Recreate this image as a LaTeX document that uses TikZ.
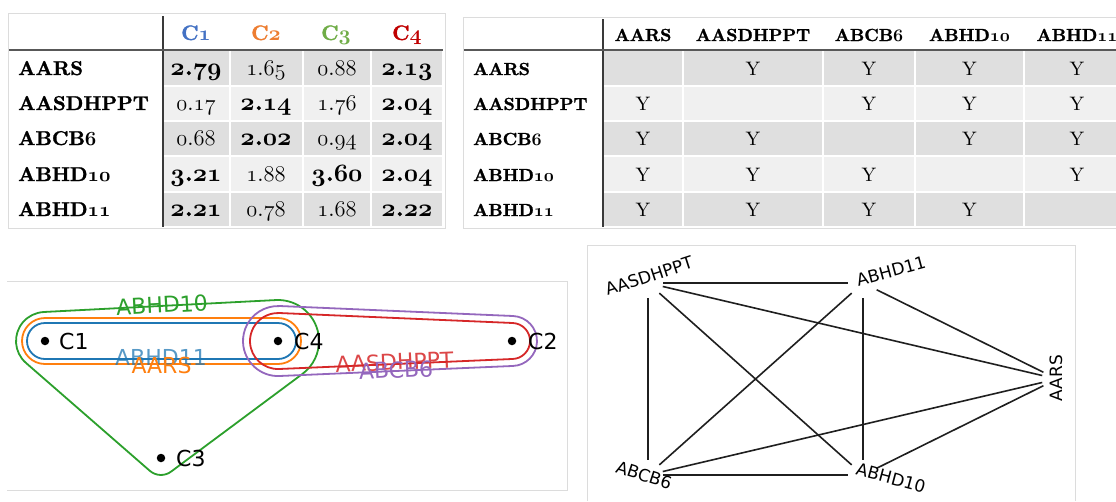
\RequirePackage{fix-cm}
\documentclass[tikz,border=0pt]{standalone}
\usepackage{fontspec}
\setmainfont{lmroman10-regular.otf}[BoldFont=lmroman10-bold.otf, BoldFeatures={FakeBold=1.4}]
\newfontfamily\djv{DejaVu Sans}
\definecolor{hdCa}{HTML}{4472C4}
\definecolor{hdCb}{HTML}{ED7D31}
\definecolor{hdCc}{HTML}{70AD47}
\definecolor{hdCd}{HTML}{C00000}
\definecolor{rowdark}{HTML}{DFDFDF}
\definecolor{rowlight}{HTML}{F0F0F0}
\definecolor{framegray}{HTML}{DCDCDC}
\definecolor{rulegray}{HTML}{3A3A3A}
\definecolor{tabblue}{HTML}{1F77B4}
\definecolor{taborange}{HTML}{FF7F0E}
\definecolor{tabgreen}{HTML}{2CA02C}
\definecolor{tabred}{HTML}{D62728}
\definecolor{tabpurple}{HTML}{9467BD}
\newcommand\osr[1]{{\usefont{OML}{cmm}{m}{it}#1}}
\newcommand\osb[1]{{\usefont{OML}{cmm}{b}{it}#1}}
\newcommand\vr[2]{{\fontsize{22.5}{26}\selectfont\osr{#1}.\osr{#2}}}
\newcommand\vb[2]{{\fontsize{25}{28}\selectfont\bfseries\osb{#1}.\osb{#2}}}
\tikzset{
  tlab/.style={font=\fontsize{20}{24}\selectfont\bfseries, anchor=base west, inner sep=0pt},
  rlab/.style={font=\fontsize{17.5}{21}\selectfont\bfseries, anchor=base west, inner sep=0pt},
  thead/.style={font=\fontsize{21}{25}\selectfont\bfseries, anchor=base, inner sep=0pt},
  rhead/.style={font=\fontsize{17.5}{21}\selectfont\bfseries, anchor=base, inner sep=0pt},
  tval/.style={anchor=base, inner sep=0pt},
  yval/.style={font=\fontsize{19.5}{22}\selectfont, anchor=base, inner sep=0pt},
  frameline/.style={draw=framegray, line width=0.9pt},
  vrule/.style={draw=rulegray, line width=1.5pt},
  hrule/.style={draw=rulegray!85, line width=2pt},
  hedge/.style={line width=1.8pt},
  hlab/.style={font=\djv\fontsize{22}{26}\selectfont, inner sep=0pt},
  dotlab/.style={font=\djv\fontsize{22}{26}\selectfont, anchor=west, inner sep=0pt},
  hdot/.style={circle, fill=black, minimum size=8.5pt, inner sep=0pt},
  gv/.style={circle, minimum size=30pt, inner sep=0pt},
  glab/.style={font=\djv\fontsize{17}{20}\selectfont, inner sep=0pt},
  gedge/.style={draw=black!88, line width=1.6pt},
}
\begin{document}
\begin{tikzpicture}[x=1pt, y=-1pt]
\useasboundingbox (0,0) rectangle (1116,501);
\fill[white] (0,0) rectangle (1116,501);

% ---------------- left table ----------------
\foreach \ya/\yb/\col in {50/86/rowdark, 86/121/rowlight, 121/156/rowdark, 156/192/rowlight, 192/227/rowdark} {
  \foreach \xa/\xb in {163/230, 230/303, 303/371, 371/443} {
    \fill[\col] (\xa+1,\ya+1) rectangle (\xb-1,\yb-1);
  }
}
\draw[frameline] (8,13) rectangle (445,228);
\draw[vrule] (163,16) -- (163,227);
\draw[hrule] (9,50) -- (443,50);

\node[thead, text=hdCa] (LhA) at (196,40) {C\osb{1}};
\node[thead, text=hdCb] (LhB) at (266,40) {C\osb{2}};
\node[thead, text=hdCc] (LhC) at (336,40) {C\osb{3}};
\node[thead, text=hdCd] (LhD) at (407,40) {C\osb{4}};

\node[tlab] (Lr1) at (18,75) {AARS};
\node[tlab] (Lr2) at (18,110) {AASDHPPT};
\node[tlab] (Lr3) at (18,145) {ABCB\osb{6}};
\node[tlab] (Lr4) at (18,181) {ABHD\osb{10}};
\node[tlab] (Lr5) at (18,216) {ABHD\osb{11}};

\node[tval] (L11) at (196,75) {\vb{2}{79}};
\node[tval] (L12) at (266,75) {\vr{1}{65}};
\node[tval] (L13) at (337,75) {\vr{0}{88}};
\node[tval] (L14) at (407,75) {\vb{2}{13}};
\node[tval] (L21) at (196,110) {\vr{0}{17}};
\node[tval] (L22) at (266,110) {\vb{2}{14}};
\node[tval] (L23) at (337,110) {\vr{1}{76}};
\node[tval] (L24) at (407,110) {\vb{2}{04}};
\node[tval] (L31) at (196,145) {\vr{0}{68}};
\node[tval] (L32) at (266,145) {\vb{2}{02}};
\node[tval] (L33) at (337,145) {\vr{0}{94}};
\node[tval] (L34) at (407,145) {\vb{2}{04}};
\node[tval] (L41) at (196,181) {\vb{3}{21}};
\node[tval] (L42) at (266,181) {\vr{1}{88}};
\node[tval] (L43) at (337,181) {\vb{3}{60}};
\node[tval] (L44) at (407,181) {\vb{2}{04}};
\node[tval] (L51) at (196,216) {\vb{2}{21}};
\node[tval] (L52) at (266,216) {\vr{0}{78}};
\node[tval] (L53) at (337,216) {\vr{1}{68}};
\node[tval] (L54) at (407,216) {\vb{2}{22}};

% ---------------- right table ----------------
\foreach \ya/\yb/\col in {50/86/rowdark, 86/121/rowlight, 121/156/rowdark, 156/192/rowlight, 192/227/rowdark} {
  \foreach \xa/\xb in {603/683, 683/823, 823/915, 915/1024, 1024/1130} {
    \fill[\col] (\xa+1,\ya+1) rectangle (\xb-1,\yb-1);
  }
}
\draw[frameline] (1116,17) -- (463,17) -- (463,228) -- (1116,228);
\draw[vrule] (603,19) -- (603,227);
\draw[hrule] (464,50) -- (1116,50);

\node[rhead] (RhA) at (643,41) {AARS};
\node[rhead] (RhB) at (753,41) {AASDHPPT};
\node[rhead] (RhC) at (869,41) {ABCB\osb{6}};
\node[rhead] (RhD) at (969.5,41) {ABHD\osb{10}};
\node[rhead] (RhE) at (1077,41) {ABHD\osb{11}};

\node[rlab] (Rr1) at (473,75) {AARS};
\node[rlab] (Rr2) at (473,110) {AASDHPPT};
\node[rlab] (Rr3) at (473,145) {ABCB\osb{6}};
\node[rlab] (Rr4) at (473,181) {ABHD\osb{10}};
\node[rlab] (Rr5) at (473,216) {ABHD\osb{11}};

\node[yval] (R12) at (753,75) {Y};
\node[yval] (R13) at (869,75) {Y};
\node[yval] (R14) at (969.5,75) {Y};
\node[yval] (R15) at (1077,75) {Y};
\node[yval] (R21) at (643,110) {Y};
\node[yval] (R23) at (869,110) {Y};
\node[yval] (R24) at (969.5,110) {Y};
\node[yval] (R25) at (1077,110) {Y};
\node[yval] (R31) at (643,145) {Y};
\node[yval] (R32) at (753,145) {Y};
\node[yval] (R34) at (969.5,145) {Y};
\node[yval] (R35) at (1077,145) {Y};
\node[yval] (R41) at (643,181) {Y};
\node[yval] (R42) at (753,181) {Y};
\node[yval] (R43) at (869,181) {Y};
\node[yval] (R45) at (1077,181) {Y};
\node[yval] (R51) at (643,216) {Y};
\node[yval] (R52) at (753,216) {Y};
\node[yval] (R53) at (869,216) {Y};
\node[yval] (R54) at (969.5,216) {Y};

% ---------------- hypergraph ----------------
\draw[frameline] (7,281) -- (567,281) -- (567,490) -- (7,490);

% ABHD10 (green)
\draw[hedge, tabgreen] (43.5,312.0) -- (275.9,300.05)
  arc[start angle=267.05, end angle=413.34, radius=41] -- (171.1,471.6)
  arc[start angle=53.34, end angle=131.07, radius=17] -- (25.95,362.9)
  arc[start angle=131.07, end angle=267.05, radius=29] -- cycle;
% AARS (orange)
\draw[hedge, taborange] (45,318) -- (278,318)
  arc[start angle=270, end angle=450, radius=23] -- (45,364)
  arc[start angle=90, end angle=270, radius=23] -- cycle;
% ABHD11 (blue)
\draw[hedge, tabblue] (45,323) -- (278,323)
  arc[start angle=270, end angle=450, radius=18] -- (45,359)
  arc[start angle=90, end angle=270, radius=18] -- cycle;
% ABCB6 (purple)
\draw[hedge, tabpurple] (279.5,306.0) -- (513.07,316.0)
  arc[start angle=272.45, end angle=447.55, radius=25] -- (279.5,376.0)
  arc[start angle=87.55, end angle=272.45, radius=35] -- cycle;
% AASDHPPT (red)
\draw[hedge, tabred] (279.2,313.0) -- (512.8,323.0)
  arc[start angle=272.45, end angle=447.55, radius=18] -- (279.2,369.0)
  arc[start angle=87.55, end angle=272.45, radius=28] -- cycle;

\node[hdot] (hC1) at (45,341) {};
\node[hdot] (hC4) at (278,341) {};
\node[hdot] (hC2) at (512,341) {};
\node[hdot] (hC3) at (161,458) {};
\node[dotlab] (tC1) at (59,341) {C1};
\node[dotlab] (tC4) at (294,341) {C4};
\node[dotlab] (tC2) at (528,341) {C2};
\node[dotlab] (tC3) at (176,458) {C3};

\node[hlab, text=tabgreen, rotate=2.96] (eH10) at (162,305) {ABHD10};
\node[hlab, text=tabblue, opacity=0.75] (eH11) at (161,357) {ABHD11};
\node[hlab, text=taborange] (eAARS) at (161.5,365) {AARS};
\node[hlab, text=tabred, opacity=0.85, rotate=2.45] (eAAS) at (394.5,362) {AASDHPPT};
\node[hlab, text=tabpurple, rotate=2.45] (eB6) at (396,370) {ABCB6};

% ---------------- graph ----------------
\draw[frameline] (587,501) -- (587,245) -- (1075,245) -- (1075,501);

\node[gv] (gA) at (1057,379) {};
\node[gv] (gS) at (648,283) {};
\node[gv] (gB) at (648,475) {};
\node[gv] (gH0) at (863,475) {};
\node[gv] (gH1) at (863,283) {};

\draw[gedge] (gS) -- (gH1);
\draw[gedge] (gS) -- (gB);
\draw[gedge] (gS) -- (gH0);
\draw[gedge] (gS) -- (gA);
\draw[gedge] (gB) -- (gH1);
\draw[gedge] (gB) -- (gH0);
\draw[gedge] (gB) -- (gA);
\draw[gedge] (gH1) -- (gH0);
\draw[gedge] (gH1) -- (gA);
\draw[gedge] (gH0) -- (gA);

\node[glab, rotate=18] (lS) at (649,276) {AASDHPPT};
\node[glab, rotate=-18] (lB) at (644,475) {ABCB6};
\node[glab, rotate=15] (lH1) at (891,271) {ABHD11};
\node[glab, rotate=-15] (lH0) at (891,478) {ABHD10};
\node[glab, rotate=90] (lA) at (1056,378) {AARS};
\end{tikzpicture}
\end{document}
